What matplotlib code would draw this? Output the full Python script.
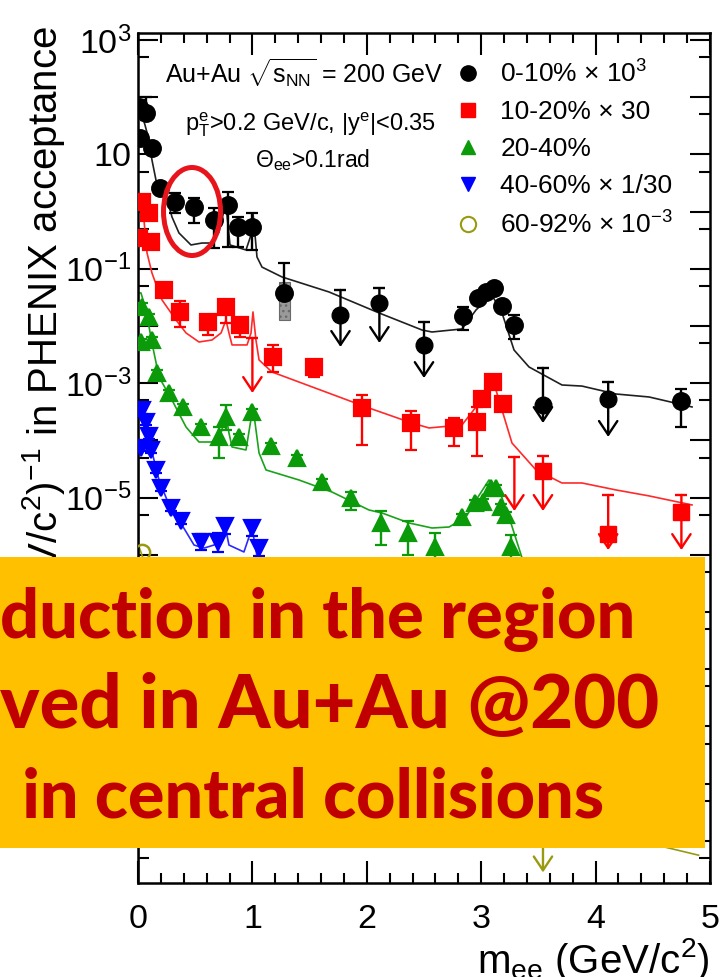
import numpy as np
import matplotlib
matplotlib.use("Agg")
import matplotlib.pyplot as plt
from matplotlib.patches import Rectangle, Ellipse
from matplotlib.lines import Line2D
from matplotlib.ticker import FixedLocator, NullFormatter, MultipleLocator, FuncFormatter

plt.rcParams['font.family'] = ['Liberation Sans', 'DejaVu Sans']
plt.rcParams['mathtext.fontset'] = 'custom'
plt.rcParams['mathtext.rm'] = 'Liberation Sans'
plt.rcParams['mathtext.it'] = 'Liberation Sans:italic'
plt.rcParams['mathtext.bf'] = 'Liberation Sans:bold'
plt.rcParams['mathtext.sf'] = 'Liberation Sans'

nan = np.nan

# ---------------- data: dielectron yield vs m_ee (scaled per centrality) ----------------
# 0-10% x 10^3
bk_x = [0.01, 0.07, 0.02, 0.12, 0.19, 0.32, 0.49, 0.66, 0.79, 0.87, 1.00, 1.28,
        2.84, 2.97, 3.04, 3.11, 3.18, 3.29, 4.75]
bk_y = [67.5, 53, 19.4, 12.9, 2.59, 1.47, 1.20, 0.713, 1.30, 0.538, 0.538, 0.0378,
        0.0150, 0.0309, 0.0393, 0.0461, 0.0224, 0.0104, 4.89e-4]
bk_hi = [89, 100, 24.7, 15.8, 3.16, 2.11, 1.73, 1.156, 2.2, 0.805, 0.946, 0.126,
         0.0215, 0.0378, 0.045, 0.052, 0.027, 0.0156, 7.9e-4]
bk_lo = [51, 40, 15.2, 10.6, 2.11, 0.946, 0.632, 0.231, 0.24, 0.24, 0.213, 0.0285,
         0.0085, 0.0252, 0.034, 0.040, 0.018, 0.00593, 1.71e-4]
bk_ul_x = [1.77, 2.11, 2.50, 3.54, 4.11]
bk_ul_y = [0.0156, 0.0252, 0.00466, 4.16e-4, 5.3e-4]
bk_ul_hi = [0.0426, 0.0461, 0.01175, 1.85e-3, 1.05e-3]
bk_ul_tip = [0.0043, 0.00505, 0.00123, 2.01e-4, 1.15e-4]
bk_sys_x = [1.28]
bk_sys_lo = [0.0127]
bk_sys_hi = [0.0588]

# 10-20% x 30
rd_x = [0.035, 0.10, 0.01, 0.11, 0.23, 0.37, 0.61, 0.77, 0.89, 1.18, 1.54, 1.96,
        2.39, 2.76, 2.96, 3.01, 3.10, 3.19]
rd_y = [1.47, 0.946, 0.345, 0.294, 0.0426, 0.0176, 0.01175, 0.0215, 0.0104, 0.00287,
        0.00192, 3.68e-4, 2.01e-4, 1.65e-4, 2.1e-4, 5.3e-4, 1.05e-3, 4.33e-4]
rd_hi = [1.95, 1.25, 0.423, 0.36, 0.052, 0.0274, 0.0156, 0.0285, 0.0138, 0.00466,
         0.00244, 6.22e-4, 3.27e-4, 2.47e-4, 3.84e-4, 6.3e-4, 1.2e-3, 5.1e-4]
rd_lo = [1.11, 0.713, 0.282, 0.24, 0.0348, 0.0096, 0.0070, 0.01127, 0.00643, 0.00157,
         0.00128, 8.3e-5, 6.8e-5, 7.98e-5, 5.33e-5, 4.4e-4, 9.0e-4, 3.6e-4]
rd_ul_x = [1.00, 3.29, 3.54, 4.11, 4.75]
rd_ul_y = [nan, nan, 2.92e-5, 2.31e-6, 5.6e-6]
rd_ul_hi = [0.00617, 5.13e-5, 5.33e-5, 1.11e-5, 1.11e-5]
rd_ul_tip = [6.74e-4, 5.83e-6, 5.83e-6, 1.21e-6, 1.21e-6]

# 20-40%
gr_x = [0.035, 0.10, 0.03, 0.12, 0.17, 0.27, 0.39, 0.55, 0.71, 0.77, 0.88, 1.00,
        1.16, 1.39, 1.61, 1.86, 2.12, 2.36, 2.60, 2.83, 2.95, 3.02, 3.09, 3.13,
        3.17, 3.22, 3.26]
gr_y = [0.0215, 0.01436, 0.00525, 0.00569, 0.00151, 6.74e-4, 3.84e-4, 1.71e-4,
        1.15e-4, 2.56e-4, 1.15e-4, 3.14e-4, 7.98e-5, 4.92e-5, 1.87e-5, 9.84e-6,
        3.6e-6, 2.4e-6, 1.37e-6, 4.58e-6, 8.05e-6, 8.38e-6, 1.47e-5, 1.47e-5,
        6.85e-6, 4.97e-6, 1.37e-6]
gr_hi = [0.025, 0.0165, 0.006, 0.0065, 0.0017, 7.6e-4, 4.3e-4, 1.9e-4, 1.71e-4,
         4.16e-4, 1.3e-4, 3.5e-4, 9e-5, 5.5e-5, 2.1e-5, 1.25e-5, 5.83e-6, 3.9e-6,
         2.4e-6, 5.2e-6, 9e-6, 9.4e-6, 1.65e-5, 1.65e-5, 7.7e-6, 5.6e-6, 2.2e-6]
gr_lo = [0.0185, 0.0125, 0.0046, 0.005, 0.00134, 6e-4, 3.4e-4, 1.52e-4, 4.92e-5,
         1.52e-4, 1.02e-4, 2.8e-4, 7.1e-5, 4.4e-5, 1.66e-5, 6.07e-6, 1.48e-6, 9.9e-7,
         8e-7, 4.1e-6, 7.2e-6, 7.5e-6, 1.31e-5, 1.31e-5, 6.1e-6, 4.4e-6, 8e-7]

# 40-60% x 1/30
bl_x = [0.035, 0.07, 0.10, 0.03, 0.11, 0.16, 0.20, 0.29, 0.38, 0.55, 0.70, 0.76, 1.00, 1.06]
bl_y = [3.4e-4, 2.1e-4, 1.2e-4, 7.4e-5, 6.8e-5, 3.0e-5, 1.5e-5, 6.6e-6, 3.9e-6,
        1.7e-6, 1.7e-6, 3.2e-6, 2.9e-6, 1.3e-6]
bl_hi = [3.9e-4, 2.4e-4, 1.37e-4, 8.5e-5, 7.8e-5, 3.4e-5, 1.7e-5, 7.5e-6, 4.5e-6,
         2.3e-6, 2.4e-6, 4.3e-6, 3.9e-6, 1.7e-6]
bl_lo = [2.95e-4, 1.85e-4, 1.05e-4, 6.5e-5, 6.0e-5, 2.65e-5, 1.3e-5, 5.8e-6, 3.4e-6,
         1.2e-6, 1.1e-6, 2.3e-6, 2.1e-6, 9.5e-7]

# 60-92% x 10^-3
ol_x = [0.035]
ol_y = [1.12e-6]
ol_ul_x = [3.54]
ol_ul_y = [nan]
ol_ul_hi = [2.0e-11]
ol_ul_tip = [2.8e-12]

# hadronic cocktail expectations
bk_cx = [0.009, 0.061, 0.096, 0.122, 0.157, 0.21, 0.245, 0.297, 0.358, 0.463, 0.559,
         0.638, 0.708, 0.743, 0.76, 0.778, 0.804, 0.944, 0.988, 1.005, 1.023, 1.04,
         1.084, 1.259, 1.67, 2.107, 2.483, 2.57, 2.832, 2.955, 3.094, 3.182, 3.287,
         3.418, 3.706, 3.881, 4.178, 4.467, 4.843]
bk_cy = [73.1, 32.7, 17.9, 7.98, 3.57, 2.39, 1.95, 0.805, 0.423, 0.261, 0.282, 0.282,
         0.44, 0.873, 1.3, 0.873, 0.261, 0.213, 0.39, 0.946, 0.39, 0.161, 0.107, 0.0719,
         0.0393, 0.0169, 0.0085, 0.00785, 0.00887, 0.0191, 0.0348, 0.0169, 0.0038,
         0.00192, 9.3e-4, 8.9e-4, 6.47e-4, 5.74e-4, 3.84e-4]
rd_cx = [0.003, 0.003, 0.026, 0.052, 0.079, 0.122, 0.166, 0.21, 0.332, 0.42, 0.533,
         0.647, 0.726, 0.769, 0.795, 0.822, 0.953, 0.988, 1.005, 1.031, 1.058, 1.171,
         1.993, 2.395, 2.544, 2.832, 2.955, 3.068, 3.129, 3.269, 3.479, 3.706, 3.881,
         4.178, 4.467, 4.843]
rd_cy = [2e-12, 1.8, 1.8, 0.713, 0.189, 0.0845, 0.0481, 0.0285, 0.01274, 0.00755,
         0.00525, 0.00569, 0.00755, 0.01274, 0.00755, 0.00466, 0.00466, 0.00755, 0.0176,
         0.00569, 0.00255, 0.00157, 3.84e-4, 2.01e-4, 1.65e-4, 1.86e-4, 3.84e-4, 1.05e-3,
         7.6e-4, 9.0e-5, 3.04e-5, 1.8e-5, 1.8e-5, 1.36e-5, 1.07e-5, 7.43e-6]
gr_cx = [0.003, 0.003, 0.026, 0.07, 0.122, 0.184, 0.297, 0.42, 0.533, 0.647, 0.726,
         0.769, 0.795, 0.822, 0.944, 1.005, 1.058, 1.119, 1.407, 1.696, 2.019, 2.133,
         2.369, 2.57, 2.719, 2.867, 2.955, 3.068, 3.156, 3.243, 3.357, 3.68, 4.3, 4.9]
gr_cy = [2e-12, 0.0378, 0.0378, 0.0191, 0.00505, 1.28e-3, 5.08e-4, 1.71e-4, 9.37e-5,
         9.37e-5, 1.35e-4, 2.78e-4, 1.35e-4, 7.67e-5, 6.8e-5, 3.84e-4, 6.02e-5, 3.04e-5,
         2.03e-5, 1.25e-5, 6.07e-6, 5.38e-6, 3.6e-6, 2.94e-6, 3.06e-6, 4.58e-6, 9.08e-6,
         2.03e-5, 1.36e-5, 4.58e-6, 8.8e-7, 1.1e-7, 6e-8, 2.2e-8]
bl_cx = [0.003, 0.003, 0.009, 0.096, 0.184, 0.271, 0.358, 0.49, 0.577, 0.664, 0.726,
         0.76, 0.795, 0.926, 0.997, 1.04, 1.15, 2.3, 3.1, 3.4, 4.9]
bl_cy = [2e-12, 4.2e-4, 4.16e-4, 1.02e-4, 2.03e-5, 7.43e-6, 4.06e-6, 1.48e-6, 1.31e-6,
         1.48e-6, 1.82e-6, 3.32e-6, 1.48e-6, 1.12e-6, 2.94e-6, 9.5e-7, 1.6e-7, 2e-8,
         8e-8, 6e-9, 2e-9]
ol_cx = [0.003, 0.003, 0.05, 0.2, 0.5, 1.0, 1.1, 2.0, 2.8, 3.1, 3.3, 3.7, 4.3, 4.6, 4.9]
ol_cy = [2e-12, 1.5e-6, 8e-7, 2e-8, 2e-9, 1e-9, 1.5e-10, 4e-11, 1.8e-11, 6e-11, 1.5e-11,
         1.1e-11, 9e-12, 7.8e-12, 5.6e-12]

legend_labels = ["0-10% × 10$^{3}$", "10-20% × 30", "20-40%",
                 "40-60% × 1/30", "60-92% × 10$^{-3}$"]
box_lines = ["duction in the region", "ved in Au+Au @200", " in central collisions"]

# ---------------- styles ----------------
C_BK, C_RD, C_GR, C_BL, C_OL = "#000000", "#ff0000", "#0a9a0a", "#0000ff", "#9a9a10"
LC_BK, LC_RD, LC_GR, LC_BL = "#202020", "#ff2a2a", "#1aa31a", "#2a2aff"

W, H = 725, 977
fig = plt.figure(figsize=(W / 100, H / 100), dpi=100)
ax = fig.add_axes([138 / W, 1 - 883 / H, (710 - 138) / W, (883 - 33) / H])
ax.set_xlim(0, 5)
ax.set_yscale('log')
ax.set_ylim(10 ** -11.738, 10 ** 3.122)

# cocktail curves
for cx, cy, c in [(bk_cx, bk_cy, LC_BK), (rd_cx, rd_cy, LC_RD), (gr_cx, gr_cy, LC_GR),
                  (bl_cx, bl_cy, LC_BL), (ol_cx, ol_cy, C_OL)]:
    ax.plot(cx, cy, color=c, lw=1.2, zorder=2)

# systematic band
for xs, lo, hi in zip(bk_sys_x, bk_sys_lo, bk_sys_hi):
    ax.add_patch(Rectangle((xs - 0.045, lo), 0.09, hi - lo, fc="#9a9a9a", ec="#6a6a6a",
                           lw=0.8, hatch="...", zorder=3))


def draw_points(x, y, lo, hi, color, marker, ms, mfc=None):
    x = np.asarray(x, float)
    y = np.asarray(y, float)
    yerr = [y - np.asarray(lo, float), np.asarray(hi, float) - y]
    ax.errorbar(x, y, yerr=yerr, fmt=marker, color=color, ms=ms,
                mfc=color if mfc is None else mfc, mec=color, mew=1.6,
                elinewidth=1.7, capsize=4.5, capthick=1.7, zorder=4)


def draw_limits(x, y, hi, tip, color, marker, ms):
    for xi, hii, ti in zip(x, hi, tip):
        ax.annotate('', xy=(xi, ti), xytext=(xi, hii),
                    arrowprops=dict(arrowstyle='->,head_length=0.45,head_width=0.3',
                                    color=color, lw=1.7, shrinkA=0, shrinkB=0,
                                    mutation_scale=22), zorder=4)
    ax.plot(x, hi, ls='none', marker='_', ms=9, mew=1.7, color=color, zorder=4)
    ax.plot(x, y, ls='none', marker=marker, ms=ms, color=color, zorder=4)


draw_points(bk_x, bk_y, bk_lo, bk_hi, C_BK, 'o', 12)
draw_limits(bk_ul_x, bk_ul_y, bk_ul_hi, bk_ul_tip, C_BK, 'o', 12)
draw_points(rd_x, rd_y, rd_lo, rd_hi, C_RD, 's', 11)
draw_limits(rd_ul_x, rd_ul_y, rd_ul_hi, rd_ul_tip, C_RD, 's', 11)
draw_points(gr_x, gr_y, gr_lo, gr_hi, C_GR, '^', 11.5)
draw_points(bl_x, bl_y, bl_lo, bl_hi, C_BL, 'v', 11.5)
ax.plot(ol_x, ol_y, ls='none', marker='o', ms=11, mfc='none', mec=C_OL, mew=1.8, zorder=4)
draw_limits(ol_ul_x, ol_ul_y, ol_ul_hi, ol_ul_tip, C_OL, 'o', 11)

# axes styling
for s in ax.spines.values():
    s.set_linewidth(1.8)
ax.xaxis.set_major_locator(MultipleLocator(1))
ax.xaxis.set_minor_locator(MultipleLocator(0.2))
ax.yaxis.set_major_locator(FixedLocator([10.0 ** k for k in range(-12, 4)]))
ax.yaxis.set_minor_locator(FixedLocator([5 * 10.0 ** k for k in range(-13, 3)]))
ax.yaxis.set_minor_formatter(NullFormatter())


def ylab(v, pos):
    k = int(round(np.log10(v)))
    if k % 2 == 0 or k < -5:
        return ""
    if k == 1:
        return "$10$"
    return "$10^{%d}$" % k


ax.yaxis.set_major_formatter(FuncFormatter(ylab))
ax.tick_params(axis='x', which='major', direction='in', length=16, width=1.5,
               top=True, bottom=True, labelsize=24.5, pad=15)
ax.tick_params(axis='x', which='minor', direction='in', length=7.5, width=1.5,
               top=True, bottom=True)
ax.tick_params(axis='y', which='major', direction='in', length=14.4, width=1.5,
               left=True, right=True, labelsize=24.5, pad=5)
ax.tick_params(axis='y', which='minor', direction='in', length=8, width=1.5,
               left=True, right=True)

ax.set_xlabel(r"m$_{\rm ee}$ (GeV/c$^{2}$)", loc='right', fontsize=29, labelpad=1)
fig.text(57 / W, 1 - 26 / H,
         r"dN/dm$_{\rm ee}$ (GeV/c$^{2}$)$^{-1}$ in PHENIX acceptance",
         rotation=90, rotation_mode='anchor', ha='right', va='baseline',
         fontsize=29, zorder=3)

# annotations
ax.text(0.047, 0.941, r"Au+Au $\sqrt{\mathregular{s_{NN}}}$ = 200 GeV",
        transform=ax.transAxes, fontsize=18, va='baseline')
ax.text(0.082, 0.885, r"p$_{\rm T}^{\rm e}$>0.2 GeV/c, |y$^{\rm e}$|<0.35",
        transform=ax.transAxes, fontsize=17, va='baseline')
ax.text(0.2045, 0.842, r"Θ$_{\rm ee}$>0.1rad", transform=ax.transAxes,
        fontsize=16.5, va='baseline')

handles = [Line2D([], [], ls='none', marker='o', color=C_BK, ms=11),
           Line2D([], [], ls='none', marker='s', color=C_RD, ms=10.5),
           Line2D([], [], ls='none', marker='^', color=C_GR, ms=10.5),
           Line2D([], [], ls='none', marker='v', color=C_BL, ms=10.5),
           Line2D([], [], ls='none', marker='o', mfc='none', mec=C_OL, mew=1.5, ms=11)]
ax.legend(handles, legend_labels, loc='upper left', bbox_to_anchor=(0.553, 0.968),
          frameon=False, fontsize=19, handlelength=1.0, handletextpad=0.75,
          labelspacing=0.49, borderpad=0, borderaxespad=0)

# highlight ellipse and overlay message box
fig.add_artist(Ellipse((192 / W, 1 - 211.5 / H), 57 / W, 88 / H, transform=fig.transFigure,
                       fill=False, ec="#e8141b", lw=3.6, zorder=6))
fig.add_artist(Rectangle((0, 1 - 848 / H), 705 / W, (848 - 557) / H,
                         transform=fig.transFigure, fc="#FFC000", ec='none', zorder=5))

renderer = fig.canvas.get_renderer()
box_x = [0, 0, 6]
box_base = [638, 728, 818]
box_width = [636, 660, 599]
box_family = ['Lato', 'DejaVu Sans']
for txt, xp, yb, wt in zip(box_lines, box_x, box_base, box_width):
    t = fig.text(xp / W, 1 - yb / H, txt, fontsize=48, family=box_family,
                 fontweight='black', color="#C00000", ha='left', va='baseline', zorder=7)
    w = t.get_window_extent(renderer).width
    t.set_fontsize(48 * wt / w)

fig.savefig("out.png", dpi=100)
